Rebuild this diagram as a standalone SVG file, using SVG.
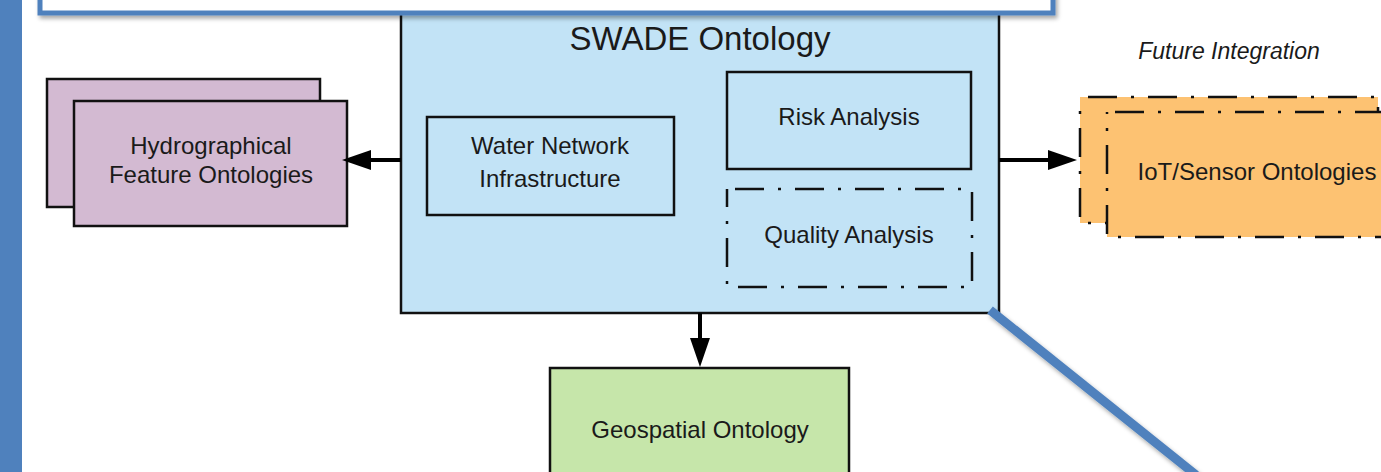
<svg xmlns="http://www.w3.org/2000/svg" width="1381" height="472" viewBox="0 0 1381 472">
<style>
.t{font-family:"Liberation Sans",Arial,sans-serif;font-size:24px;fill:#1a1a1a;text-anchor:middle}
.box{stroke:#111;stroke-width:2.5}
.dd{stroke:#111;stroke-width:2.5;stroke-dasharray:29 14 3 14;fill:none}
.conn{stroke:#000;stroke-width:4;fill:none}
</style>
<defs>
<marker id="ah" markerUnits="userSpaceOnUse" markerWidth="30" markerHeight="22" refX="1" refY="10" orient="auto">
<path d="M0,0 L29,10 L0,20 z" fill="#000"/>
</marker>
<filter id="sh" x="-10%" y="-50%" width="120%" height="250%">
<feDropShadow dx="2" dy="3" stdDeviation="2" flood-color="#000" flood-opacity="0.35"/>
</filter>
</defs>
<rect x="0" y="0" width="1381" height="472" fill="#fff"/>
<rect x="0" y="0" width="22" height="472" fill="#4f81bd"/>

<g id="swade">
<rect x="401" y="-5" width="598" height="318" fill="#c2e3f6" class="box"/>
<text x="700" y="50" class="t" style="font-size:33px">SWADE Ontology</text>
</g>
<g id="water">
<rect x="427" y="117" width="247" height="98" fill="#c2e3f6" class="box"/>
<text x="550" y="154" class="t">Water Network</text>
<text x="550" y="187" class="t">Infrastructure</text>
</g>
<g id="risk">
<rect x="727" y="72" width="244" height="97" fill="#c2e3f6" class="box"/>
<text x="849" y="125" class="t">Risk Analysis</text>
</g>
<g id="quality">
<rect x="727" y="189" width="245" height="98" fill="#c2e3f6"/>
<rect x="727" y="189" width="245" height="98" class="dd" stroke-dashoffset="-8"/>
<text x="849" y="243" class="t">Quality Analysis</text>
</g>
<g id="hydro">
<rect x="47" y="79" width="273" height="128" fill="#d3bad2" class="box"/>
<rect x="74" y="101" width="273" height="125" fill="#d3bad2" class="box"/>
<text x="211" y="154" class="t">Hydrographical</text>
<text x="211" y="183" class="t">Feature Ontologies</text>
</g>
<g id="iot">
<rect x="1080" y="97" width="298" height="126" fill="#fdc272"/>
<rect x="1080" y="97" width="298" height="126" class="dd" stroke-dashoffset="-8"/>
<rect x="1107" y="112" width="300" height="125" fill="#fdc272"/>
<rect x="1107" y="112" width="300" height="125" class="dd" stroke-dashoffset="-8"/>
<text x="1257" y="180" class="t">IoT/Sensor Ontologies</text>
</g>
<g id="future">
<text x="1229" y="59" class="t" style="font-style:italic;font-size:23px">Future Integration</text>
</g>
<g id="geo">
<rect x="550" y="368" width="299" height="120" fill="#c6e6aa" class="box"/>
<text x="700" y="438" class="t">Geospatial Ontology</text>
</g>
<g id="connectors">
<line x1="401" y1="160" x2="370" y2="160" class="conn" marker-end="url(#ah)"/>
<line x1="999" y1="160" x2="1049" y2="160" class="conn" marker-end="url(#ah)"/>
<line x1="700" y1="313" x2="700" y2="339" class="conn" marker-end="url(#ah)"/>
</g>
<g id="callout">
<rect x="40" y="-20" width="1013" height="33" fill="#fff" stroke="#4f81bd" stroke-width="5" filter="url(#sh)"/>
<line x1="990" y1="310" x2="1196" y2="475" stroke="#4f81bd" stroke-width="9" filter="url(#sh)"/>
</g>
</svg>
